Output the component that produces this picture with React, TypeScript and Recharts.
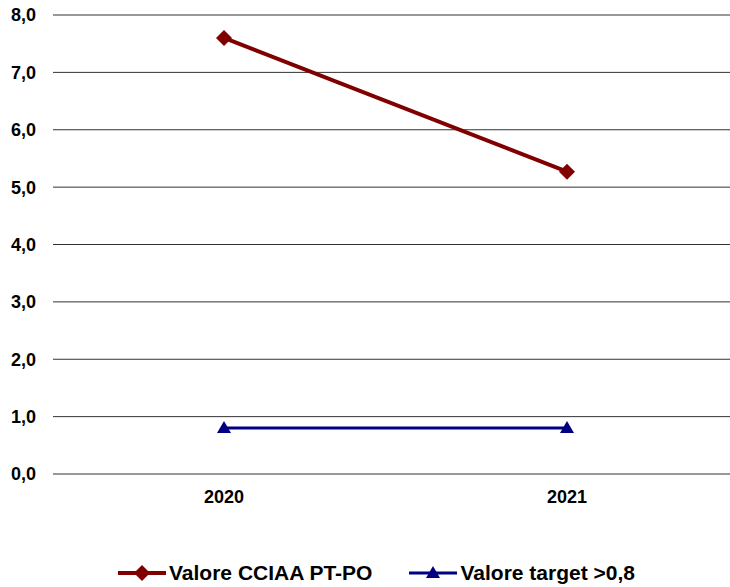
import React from 'react';
import { LineChart, Line, XAxis, YAxis, CartesianGrid } from 'recharts';

const years = ['2020', '2021'];
const cciaaValues = [7.6, 5.27];
const targetValues = [0.8, 0.8];
const yTicks = [0, 1, 2, 3, 4, 5, 6, 7, 8];
const seriesNames = ['Valore CCIAA PT-PO', 'Valore target >0,8'];

const RED = '#800000';
const BLUE = '#000080';
const FONT = '"Liberation Sans", Arial, sans-serif';

const data = years.map((year, i) => ({
  year,
  cciaa: cciaaValues[i],
  target: targetValues[i],
}));

const Diamond = (props: any) => {
  const { cx, cy, fill } = props;
  if (cx == null || cy == null) return null;
  const r = 8;
  return <path d={`M${cx},${cy - r}L${cx + r},${cy}L${cx},${cy + r}L${cx - r},${cy}Z`} fill={fill} />;
};

const Triangle = (props: any) => {
  const { cx, cy, fill } = props;
  if (cx == null || cy == null) return null;
  return <path d={`M${cx},${cy - 7}L${cx + 7},${cy + 5}L${cx - 7},${cy + 5}Z`} fill={fill} />;
};

const LegendItem = ({ color, name, marker }: { color: string; name: string; marker: 'diamond' | 'triangle' }) => (
  <div style={{ display: 'flex', alignItems: 'center' }}>
    <svg width={50} height={20} style={{ marginRight: 1 }}>
      <line x1={0} y1={10} x2={48} y2={10} stroke={color} strokeWidth={marker === 'diamond' ? 4 : 3} />
      {marker === 'diamond' ? <Diamond cx={24} cy={10} fill={color} /> : <Triangle cx={24} cy={10} fill={color} />}
    </svg>
    <span style={{ fontFamily: FONT, fontWeight: 'bold', fontSize: 21, color: '#000' }}>{name}</span>
  </div>
);

export default function App() {
  return (
    <div style={{ position: 'fixed', left: 0, top: 0, width: 730, height: 587, overflow: 'hidden', background: '#fff' }}>
      <LineChart width={760} height={587} data={data} margin={{ top: 15, right: 22, left: 0, bottom: 83 }}>
        <CartesianGrid horizontal vertical={false} stroke="#333" strokeWidth={1} />
        <XAxis
          dataKey="year"
          axisLine={false}
          tickLine={false}
          height={30}
          tickMargin={10}
          padding={{ left: 171, right: 171 }}
          tick={{ fontSize: 18, fontWeight: 'bold', fill: '#000', fontFamily: FONT }}
        />
        <YAxis
          domain={[0, 8]}
          ticks={yTicks}
          width={53}
          axisLine={false}
          tickLine={false}
          tickMargin={11}
          tickFormatter={(v: number) => v.toFixed(1).replace('.', ',')}
          tick={{ fontSize: 18, fontWeight: 'bold', fill: '#000', fontFamily: FONT }}
        />
        <Line
          dataKey="cciaa"
          name={seriesNames[0]}
          stroke={RED}
          strokeWidth={4}
          dot={<Diamond fill={RED} />}
          isAnimationActive={false}
        />
        <Line
          dataKey="target"
          name={seriesNames[1]}
          stroke={BLUE}
          strokeWidth={3}
          dot={<Triangle fill={BLUE} />}
          isAnimationActive={false}
        />
      </LineChart>
      <div style={{ position: 'absolute', left: 118, top: 561, display: 'flex', gap: 37 }}>
        <LegendItem color={RED} name={seriesNames[0]} marker="diamond" />
        <LegendItem color={BLUE} name={seriesNames[1]} marker="triangle" />
      </div>
    </div>
  );
}
